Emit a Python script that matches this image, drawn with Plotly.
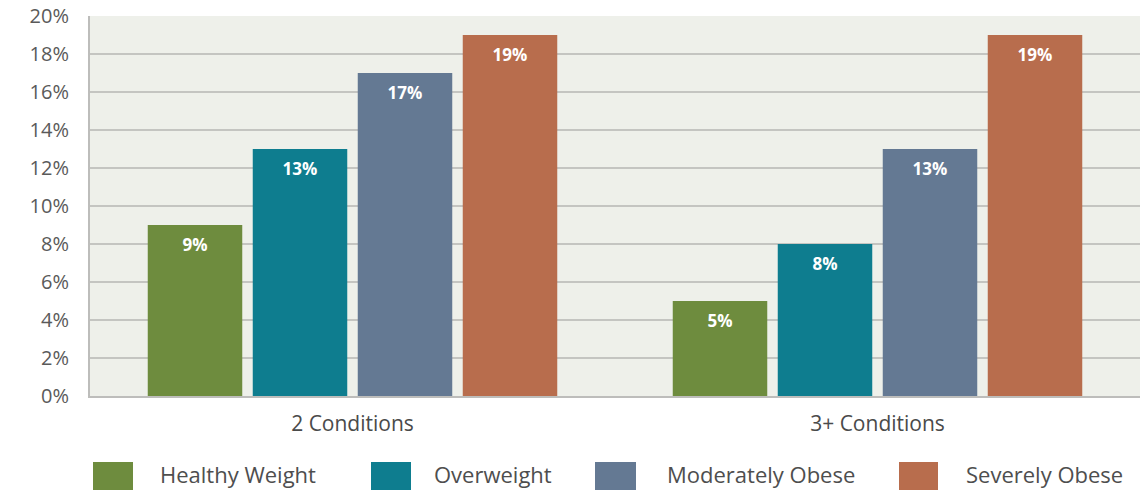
import plotly.graph_objects as go

categories = ["2 Conditions", "3+ Conditions"]
series_names = ["Healthy Weight", "Overweight", "Moderately Obese", "Severely Obese"]
healthy = [9, 5]
overweight = [13, 8]
mod_obese = [17, 13]
sev_obese = [19, 19]
series_values = [healthy, overweight, mod_obese, sev_obese]
colors = ["#6e8c3e", "#0e7d8f", "#647993", "#b86d4d"]
y_ticks = [0, 2, 4, 6, 8, 10, 12, 14, 16, 18, 20]

font_family = "Open Sans, Lato, sans-serif"

fig = go.Figure()
for i, (name, vals, col) in enumerate(zip(series_names, series_values, colors)):
    fig.add_trace(go.Bar(
        x=categories, y=vals, name=name,
        marker=dict(color=col, line=dict(width=0)),
        offsetgroup=str(i),
        showlegend=False, hoverinfo="skip",
    ))
# value labels, aligned with bars via grouped scatter mode
for i, (name, vals) in enumerate(zip(series_names, series_values)):
    fig.add_trace(go.Scatter(
        x=categories, y=vals, mode="markers+text",
        text=[f"{v}%" for v in vals], textposition="bottom center",
        marker=dict(size=20, opacity=0),
        textfont=dict(color="white", size=17, family="Open Sans, sans-serif", weight="bold"),
        offsetgroup=str(i),
        showlegend=False, hoverinfo="skip",
    ))

# custom legend (large swatches as in the reference)
swatch_x = [(93, 133), (371, 411), (595, 636), (899, 938)]
label_cx = [238, 493, 761, 1044]
for (x0, x1), cx, name, col in zip(swatch_x, label_cx, series_names, colors):
    fig.add_shape(type="rect", xref="paper", yref="paper",
                  x0=(x0 - 90) / 1050, x1=(x1 - 90) / 1050,
                  y0=(396 - 490) / 380, y1=(396 - 462) / 380,
                  fillcolor=col, line=dict(width=0))
    fig.add_annotation(xref="paper", yref="paper", x=(cx - 90) / 1050, y=(396 - 474) / 380,
                       text=name, showarrow=False, xanchor="center", yanchor="middle",
                       font=dict(size=22, color="#4e4e4e", family=font_family))

fig.update_layout(
    width=1144, height=492,
    margin=dict(l=90, r=4, t=16, b=96),
    paper_bgcolor="white", plot_bgcolor="#eef0ea",
    barmode="group", bargap=0.2, bargroupgap=0.1,
    scattermode="group", scattergap=0.2,
    font=dict(family=font_family, color="#555555"),
)
fig.update_yaxes(
    range=[0, 20], tickvals=y_ticks, ticktext=[f"{t}%" for t in y_ticks],
    showgrid=True, gridcolor="#c4c5c1", gridwidth=2,
    showline=True, linecolor="#bdbdbb", linewidth=2,
    tickfont=dict(size=20, color="#5a5a5a"), ticks="", ticklabelstandoff=15,
    zeroline=False, automargin=False,
)
fig.update_xaxes(
    showline=True, linecolor="#bdbdbb", linewidth=2,
    tickfont=dict(size=21, color="#4a4a4a"), ticks="", ticklabelstandoff=8,
    automargin=False,
)

fig.write_html("out.html")
